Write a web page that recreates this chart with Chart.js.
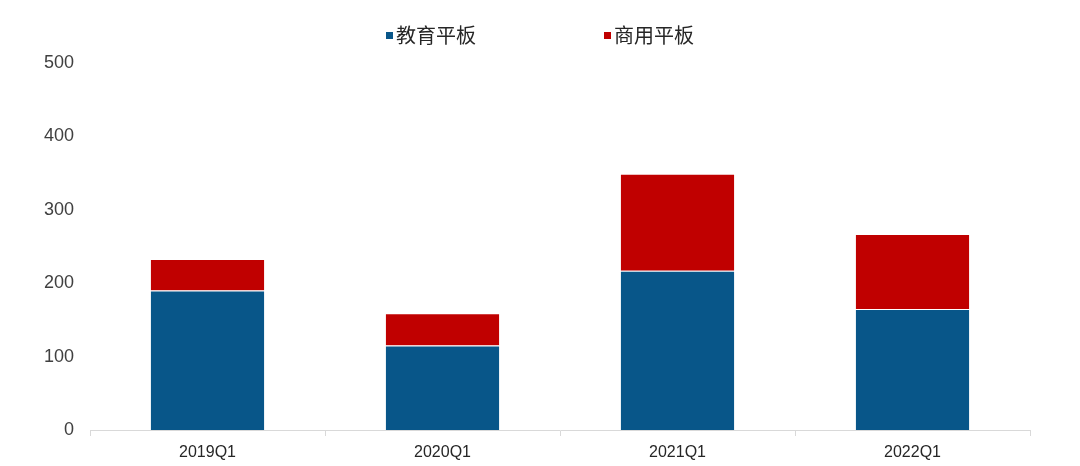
<!DOCTYPE html>
<html>
<head>
<meta charset="utf-8">
<script src="https://cdn.jsdelivr.net/npm/chart.js@4/dist/chart.umd.min.js"></script>
<style>
  body { margin: 0; background: #fff; font-family: "Liberation Sans", "Noto Sans CJK SC", sans-serif; }
  #wrap { position: relative; width: 1080px; height: 466px; }
  #legend { position: absolute; top: 23px; left: 0; width: 1080px; display: flex; justify-content: center; gap: 128px; font-size: 20px; line-height: 24px; color: #262626; font-family: "Noto Sans CJK SC", sans-serif; }
  #legend span { display: flex; align-items: center; }
  #legend i { display: inline-block; width: 7px; height: 7px; margin-right: 3px; }
</style>
</head>
<body>
<div id="wrap">
  <div id="legend"></div>
  <canvas id="grafica" width="1080" height="466"></canvas>
</div>
<script>
// Datos
const trimestres = ["2019Q1", "2020Q1", "2021Q1", "2022Q1"];
const educacion = [190, 115, 217, 165];
const comercial = [43, 44, 132, 102];
const ticksY = [0, 100, 200, 300, 400, 500];

const nombres = ["教育平板", "商用平板"];
const colores = ["#085689", "#C00000"];

// Leyenda en HTML
const legendEl = document.getElementById("legend");
nombres.forEach((n, i) => {
  const s = document.createElement("span");
  s.innerHTML = `<i style="background:${colores[i]}"></i>${n}`;
  legendEl.appendChild(s);
});

const ctx = document.getElementById("grafica").getContext("2d");
new Chart(ctx, {
  type: "bar",
  data: {
    labels: trimestres,
    datasets: [
      { label: nombres[0], data: educacion, backgroundColor: colores[0], borderColor: "#fff", borderWidth: 1 },
      { label: nombres[1], data: comercial, backgroundColor: colores[1], borderColor: "#fff", borderWidth: 1 }
    ]
  },
  options: {
    responsive: false,
    animation: false,
    layout: { padding: { top: 63, right: 50, left: 0, bottom: 0 } },
    datasets: { bar: { barPercentage: 0.49, categoryPercentage: 1 } },
    plugins: { legend: { display: false }, tooltip: { enabled: false } },
    scales: {
      x: {
        stacked: true,
        offset: true,
        grid: { offset: true, drawOnChartArea: false, drawTicks: true, tickLength: 6, color: "#d9d9d9" },
        border: { color: "#d9d9d9" },
        ticks: { color: "#262626", font: { size: 16, family: "Liberation Sans" }, padding: 7 },
        afterFit: s => { s.height = 36; }
      },
      y: {
        stacked: true,
        min: 0,
        max: 500,
        afterBuildTicks: s => { s.ticks = ticksY.map(v => ({ value: v })); },
        grid: { display: false },
        border: { display: false },
        ticks: { color: "#404040", font: { size: 18, family: "Liberation Sans" }, padding: 8 },
        afterFit: s => { s.width = 90; }
      }
    }
  }
});
</script>
</body>
</html>
